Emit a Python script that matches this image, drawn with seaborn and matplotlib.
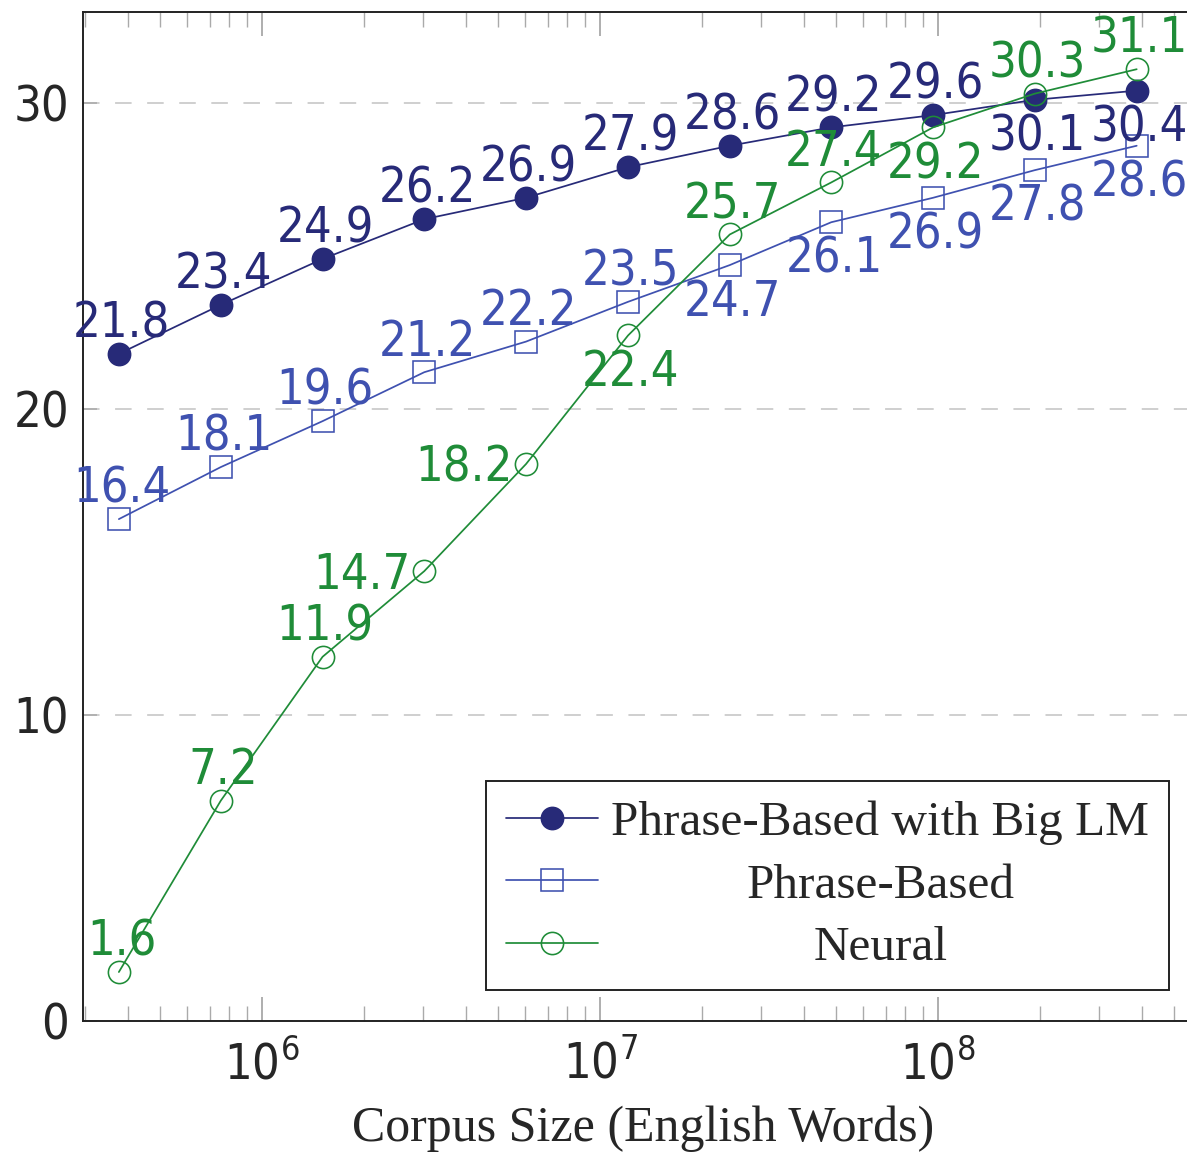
import matplotlib
matplotlib.use("Agg")
import numpy as np
import pandas as pd
import seaborn as sns
import matplotlib.pyplot as plt
from matplotlib import font_manager as fm
from matplotlib.ticker import FixedLocator, LogLocator, NullFormatter, FuncFormatter

# ---------------- data ----------------
corpus_size = [3.77e5, 7.55e5, 1.51e6, 3.02e6, 6.04e6, 1.21e7, 2.42e7, 4.83e7, 9.67e7, 1.93e8, 3.87e8]
bleu_big_lm = [21.8, 23.4, 24.9, 26.2, 26.9, 27.9, 28.6, 29.2, 29.6, 30.1, 30.4]
bleu_phrase = [16.4, 18.1, 19.6, 21.2, 22.2, 23.5, 24.7, 26.1, 26.9, 27.8, 28.6]
bleu_neural = [1.6, 7.2, 11.9, 14.7, 18.2, 22.4, 25.7, 27.4, 29.2, 30.3, 31.1]
series_names = ["Phrase-Based with Big LM", "Phrase-Based", "Neural"]
y_ticks = [0, 10, 20, 30]
x_ticks = [1e6, 1e7, 1e8]
x_label = "Corpus Size (English Words)"

# label placement (a = above, b = below, l = left)
place_big = ["a"] * 9 + ["b"] * 2
place_phrase = ["a"] * 6 + ["b"] * 5
place_neural = ["a", "a", "a", "l", "l", "b", "a", "a", "b", "a", "a"]

colors = ["#272a78", "#3f51b0", "#1f8c38"]

# ---------------- style ----------------
sns.set_style("white")
cond_path = fm.findfont(fm.FontProperties(family="DejaVu Sans", stretch="condensed"))
has_cond = "ondensed" in cond_path
stretch = "condensed" if has_cond else "normal"
num_size = 35 if has_cond else 31
plt.rcParams["font.family"] = ["DejaVu Sans"]
plt.rcParams["mathtext.default"] = "regular"

fig = plt.figure(figsize=(11.87, 11.60), dpi=100)
ax = fig.add_axes([83 / 1187, 139 / 1160, (1203 - 83) / 1187, (1021 - 12) / 1160])

df = pd.DataFrame({
    "size": corpus_size * 3,
    "bleu": bleu_big_lm + bleu_phrase + bleu_neural,
    "system": [series_names[0]] * 11 + [series_names[1]] * 11 + [series_names[2]] * 11,
})

marker_specs = [
    dict(marker="o", markerfacecolor=colors[0], markeredgecolor=colors[0]),
    dict(marker="s", markerfacecolor="none", markeredgecolor=colors[1]),
    dict(marker="o", markerfacecolor="none", markeredgecolor=colors[2]),
]
for name, col, spec in zip(series_names, colors, marker_specs):
    sns.lineplot(data=df[df["system"] == name], x="size", y="bleu", ax=ax,
                 color=col, label=name, linewidth=1.25, markersize=16,
                 markeredgewidth=1.15, **spec)

ax.set_xscale("log")
ax.set_xlim(2.953e5, 6.08e8)
ax.set_ylim(0, 32.97)

# grid
ax.yaxis.grid(True, color="#cfcfcf", linestyle=(0, (8.5, 8)), linewidth=1.4)
ax.xaxis.grid(False)
ax.set_axisbelow(True)

for s in ["left", "bottom", "top"]:
    ax.spines[s].set_color("#222222")
    ax.spines[s].set_linewidth(1.4)
ax.spines["right"].set_visible(False)

ax.yaxis.set_major_locator(FixedLocator(y_ticks))
ax.xaxis.set_major_locator(FixedLocator(x_ticks))
ax.xaxis.set_minor_locator(LogLocator(base=10, subs=np.arange(2, 10)))
ax.xaxis.set_minor_formatter(NullFormatter())
ax.xaxis.set_major_formatter(FuncFormatter(lambda v, p: r"$10^{%d}$" % int(round(np.log10(v)))))

ax.tick_params(axis="x", which="major", direction="in", length=17, width=1.1,
               color="#999999", top=True, bottom=True, labelsize=num_size, pad=14)
ax.tick_params(axis="x", which="minor", direction="in", length=11, width=1.0,
               color="#aaaaaa", top=True, bottom=True)
ax.tick_params(axis="y", which="major", direction="in", length=10, width=1.1,
               color="#aaaaaa", left=True, right=False, labelsize=num_size, pad=10)
for t in ax.get_yticklabels() + ax.get_xticklabels():
    t.set_fontstretch(stretch)

ax.set_xlabel(x_label, family="Liberation Serif", fontsize=36, labelpad=12)
ax.set_ylabel("")

# value labels
def add_labels(ys, places, color):
    for x, y, p in zip(corpus_size, ys, places):
        if p == "a":
            off, ha = (2, 11.7), "center"
        elif p == "b":
            off, ha = (2, -36.5), "center"
        else:
            off, ha = (-10, -12.7), "right"
        ax.annotate(f"{y:.1f}", (x, y), xytext=off, textcoords="offset points",
                    ha=ha, va="baseline", color=color, fontsize=num_size,
                    fontstretch=stretch, family="DejaVu Sans", zorder=5)

add_labels(bleu_big_lm, place_big, colors[0])
add_labels(bleu_phrase, place_phrase, colors[1])
add_labels(bleu_neural, place_neural, colors[2])

# legend
leg = ax.legend(loc="lower right", bbox_to_anchor=(1169 / 1187, 170 / 1160),
                bbox_transform=fig.transFigure, borderaxespad=0, frameon=True,
                fancybox=False, edgecolor="#222222", framealpha=1,
                prop=fm.FontProperties(family="Liberation Serif", size=35.5),
                handlelength=1.87, handletextpad=0.27, borderpad=0.4, labelspacing=0.37)
leg.get_frame().set_linewidth(1.4)

# center the legend texts within their column
fig.canvas.draw()
renderer = fig.canvas.get_renderer()
widths = [t.get_window_extent(renderer).width for t in leg.get_texts()]
maxw = max(widths)
for t, w in zip(leg.get_texts(), widths):
    t.set_position(((maxw - w) / 2, 0))

fig.savefig("out.png", dpi=100)
